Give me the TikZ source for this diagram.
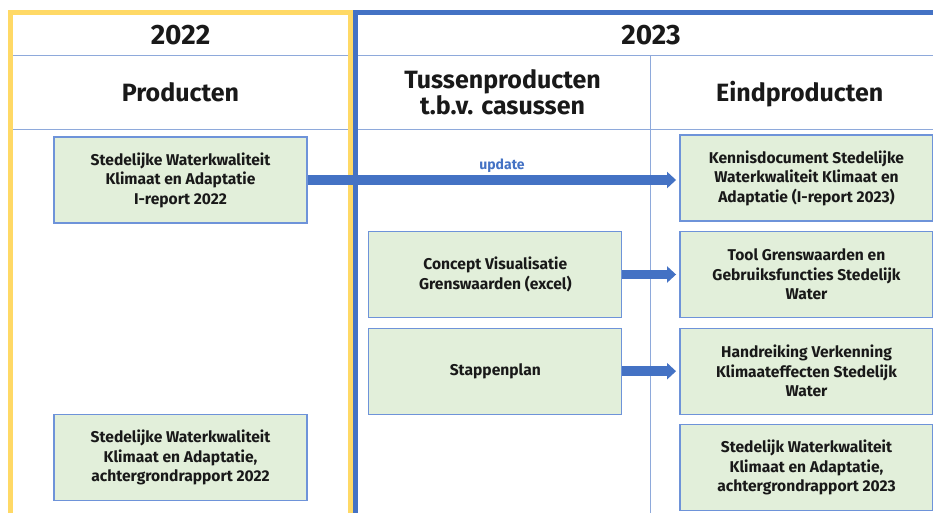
\documentclass[tikz,border=0pt]{standalone}
\usepackage{fontspec}
\setmainfont{Fira Sans}
\usetikzlibrary{arrows.meta}
\definecolor{boxfill}{HTML}{E2EFDA}
\definecolor{boxline}{HTML}{6E93D9}
\definecolor{arrowblue}{HTML}{4472C4}
\definecolor{thinline}{HTML}{8EA9DB}
\definecolor{frameyellow}{HTML}{FFD966}
\definecolor{frameblue}{HTML}{4472C4}
\tikzset{
  prodbox/.style={draw=boxline, line width=1.3pt, fill=boxfill, align=center,
    minimum width=253pt, minimum height=86pt, inner sep=2pt,
    font=\bfseries\fontsize{15.6}{19.5}\selectfont, text=black!90},
  yearhdr/.style={anchor=base, font=\bfseries\fontsize{28}{30}\selectfont, text=black!90},
  colhdr/.style={anchor=base, font=\bfseries\fontsize{25}{25}\selectfont, text=black!90},
  bigarrow/.style={draw=arrowblue, line width=9.5pt, -{Triangle[length=9pt,width=16pt]}, shorten >=3.3pt},
  thin/.style={draw=thinline, line width=1pt},
  frame/.style={line width=4.8pt}
}
\begin{document}
\begin{tikzpicture}[x=1pt,y=-1pt]
\useasboundingbox (0,0) rectangle (933,513);
\clip (0,0) rectangle (933,513);
% thin grid lines
\coordinate (hl1a) at (8,56);   \coordinate (hl1b) at (940,56);
\coordinate (hl2a) at (8,129.5); \coordinate (hl2b) at (940,129.5);
\coordinate (vla) at (650.7,56); \coordinate (vlb) at (650.7,520);
\draw[thin] (hl1a) -- (hl1b);
\draw[thin] (hl2a) -- (hl2b);
\draw[thin] (vla) -- (vlb);
% frames
\coordinate (y1) at (10.5,520); \coordinate (y2) at (10.5,12.2);
\coordinate (y3) at (350.8,12.2); \coordinate (y4) at (350.8,520);
\draw[frame, draw=frameyellow] (y1) -- (y2) -- (y3) -- (y4);
\coordinate (b1) at (355.8,520); \coordinate (b2) at (355.8,12.8);
\coordinate (b3) at (945,12.8);
\draw[frame, draw=frameblue] (b1) -- (b2) -- (b3);
% headers
\node[yearhdr] (h2022) at (180.5,45) {2022};
\node[yearhdr] (h2023) at (651,45) {2023};
\node[colhdr] (hprod) at (180.5,101.7) {Producten};
\node[colhdr] (htus1) at (502.5,89) {Tussenproducten};
\node[colhdr] (htus2) at (502.5,115) {t.b.v. casussen};
\node[colhdr] (heind) at (799.7,102) {Eindproducten};
% boxes
\node[prodbox] (A) at (180.5,180) {Stedelijke Waterkwaliteit\\Klimaat en Adaptatie\\I-report 2022};
\node[prodbox] (B) at (180.5,457.5) {Stedelijke Waterkwaliteit\\Klimaat en Adaptatie,\\achtergrondrapport 2022};
\node[prodbox] (C) at (495.3,274.5) {Concept Visualisatie\\Grenswaarden (excel)};
\node[prodbox] (D) at (495.3,371.2) {Stappenplan};
\node[prodbox] (E) at (806.5,178) {Kennisdocument Stedelijke\\Waterkwaliteit Klimaat en\\Adaptatie (I-report 2023)};
\node[prodbox] (F) at (806.5,274.5) {Tool Grenswaarden en\\Gebruiksfuncties Stedelijk\\Water};
\node[prodbox] (G) at (806.5,371.2) {Handreiking Verkenning\\Klimaateffecten Stedelijk\\Water};
\node[prodbox] (H) at (806.5,467.5) {Stedelijk Waterkwaliteit\\Klimaat en Adaptatie,\\achtergrondrapport 2023};
% arrows
\draw[bigarrow] (A.east) -- (A.east -| E.west);
\draw[bigarrow] (C.east) -- (C.east -| F.west);
\draw[bigarrow] (D.east) -- (D.east -| G.west);
\node[anchor=base, text=arrowblue, font=\bfseries\fontsize{14}{15}\selectfont] (upd) at (502,170) {update};
\end{tikzpicture}
\end{document}
